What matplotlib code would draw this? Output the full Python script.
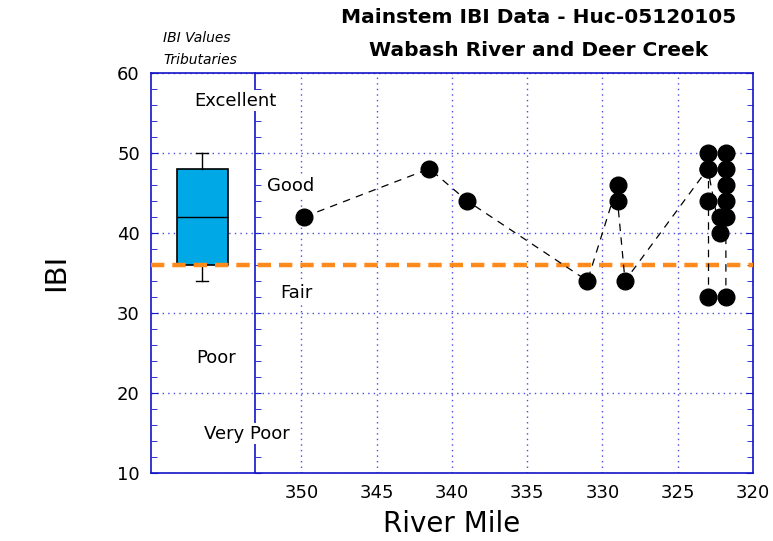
import numpy as np
import matplotlib.pyplot as plt
from matplotlib.ticker import MultipleLocator, FixedLocator

# ---------- Data ----------
# mainstem sites, in the order the dashed trace joins them
trace_mile = [349.8, 341.5, 339.0, 331.0, 329.0, 329.0, 328.5, 323.0,
              322.2, 322.2, 321.8, 321.8, 321.8, 321.8, 321.8, 321.8]
trace_ibi = [42, 48, 44, 34, 46, 44, 34, 48,
             40, 42, 50, 48, 46, 44, 42, 32]

# second sampling stack at mile 323
stack_mile = [323.0, 323.0, 323.0, 323.0]
stack_ibi = [50, 48, 44, 32]

# tributary box (IBI values)
trib_stats = dict(med=42, q1=36, q3=48, whislo=34, whishi=50, fliers=[])
trib_pos = 356.6

fair_line = 36

classes = ['Excellent', 'Good', 'Fair', 'Poor', 'Very Poor']
class_x = [354.4, 350.7, 350.35, 355.7, 353.6]
class_y = [56.5, 45.9, 32.5, 24.4, 14.9]

x_ticks = [350, 345, 340, 335, 330, 325, 320]
y_ticks = [10, 20, 30, 40, 50, 60]

# ---------- Plot ----------
blue = '#1414C8'
grid_blue = '#4B4BE6'

fig = plt.figure(figsize=(7.73, 5.41), dpi=100)
ax = fig.add_axes([0.1953, 0.1257, 0.7788, 0.740])
ax.set_xlim(360, 320)
ax.set_ylim(10, 60)

for s in ax.spines.values():
    s.set_color(blue)
    s.set_linewidth(1.2)

ax.xaxis.set_major_locator(FixedLocator(x_ticks))
ax.yaxis.set_major_locator(FixedLocator(y_ticks))
ax.yaxis.set_minor_locator(MultipleLocator(2))
ax.tick_params(axis='both', which='both', direction='in', color=blue,
               right=True, labelsize=13)
ax.tick_params(axis='x', which='major', length=0, pad=8)
ax.tick_params(axis='y', which='major', length=5, pad=8)
ax.tick_params(axis='y', which='minor', length=4)

ax.grid(True, which='major', axis='both', color=grid_blue,
        linestyle=(0, (1, 3)), linewidth=1.0)

# separator between tributary box and mainstem data
sep = 353.1
sep_frac = (360 - sep) / 40
sec = ax.secondary_yaxis(sep_frac)
sec.spines['left'].set_color(blue)
sec.spines['left'].set_linewidth(1.2)
sec.yaxis.set_major_locator(FixedLocator(y_ticks))
sec.yaxis.set_minor_locator(MultipleLocator(2))
sec.tick_params(axis='y', which='both', direction='in', color=blue,
                labelleft=False, length=4)

# tributary box
ax.bxp([trib_stats], positions=[trib_pos], widths=3.4, patch_artist=True,
       showfliers=False, manage_ticks=False,
       boxprops=dict(facecolor='#00A9E6', edgecolor='black', linewidth=1.2),
       medianprops=dict(color='black', linewidth=1.0),
       whiskerprops=dict(color='black', linewidth=1.0),
       capprops=dict(color='black', linewidth=1.0),
       capwidths=0.8, zorder=3)

ax.axhline(fair_line, color='#FF8A1C', linewidth=3.2,
           linestyle=(0, (3, 1.8)), zorder=4)

# mainstem points
ax.plot(stack_mile, stack_ibi, color='black', linestyle=(0, (6, 5)),
        linewidth=0.9, zorder=5)
ax.plot(trace_mile, trace_ibi, color='black', linestyle=(0, (6, 5)),
        linewidth=0.9, zorder=5)
ax.plot(trace_mile + stack_mile, trace_ibi + stack_ibi, 'o', color='black',
        markersize=12, linestyle='none', zorder=6)

for name, cx, cy in zip(classes, class_x, class_y):
    ax.text(cx, cy, name, ha='center', va='center', fontsize=13,
            bbox=dict(facecolor='white', edgecolor='none', pad=1.0), zorder=7)

ax.set_xlabel('River Mile', fontsize=20, labelpad=6)
ax.set_ylabel('IBI', fontsize=21, labelpad=34)

fig.text(0.697, 0.967, 'Mainstem IBI Data - Huc-05120105', ha='center',
         va='center', fontsize=14.5, fontweight='bold')
fig.text(0.697, 0.907, 'Wabash River and Deer Creek', ha='center',
         va='center', fontsize=14.5, fontweight='bold')
fig.text(0.211, 0.930, 'IBI Values', ha='left', va='center',
         fontsize=10, style='italic')
fig.text(0.211, 0.889, 'Tributaries', ha='left', va='center',
         fontsize=10, style='italic')

fig.savefig('out.png', dpi=100)
